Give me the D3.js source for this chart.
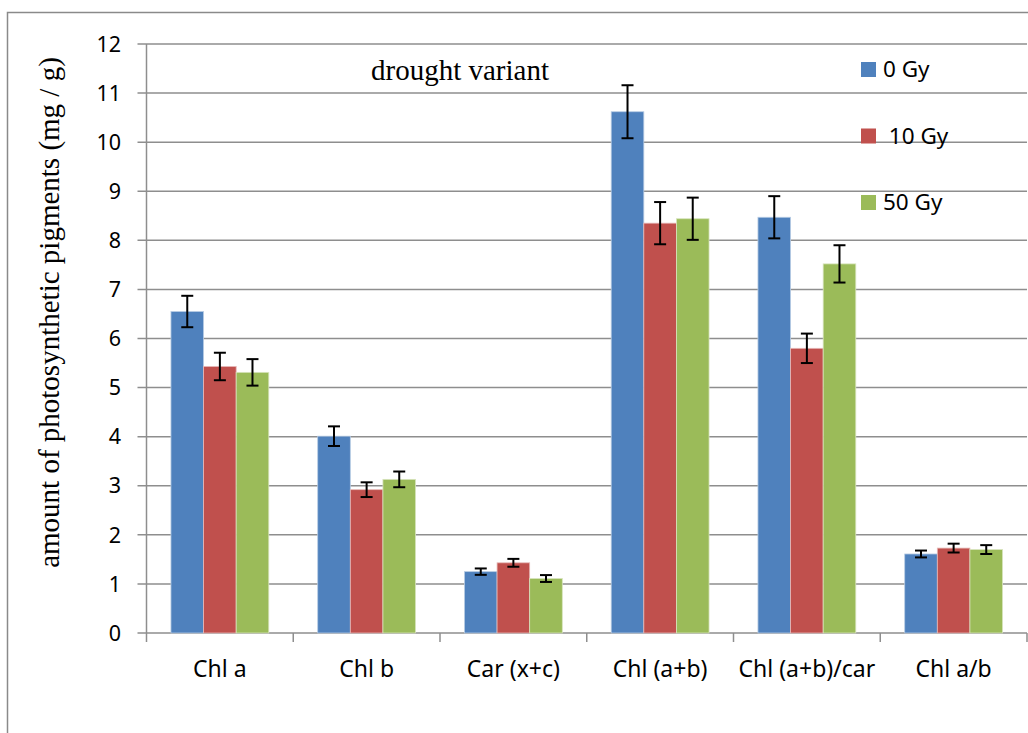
<!DOCTYPE html>
<html>
<head>
<meta charset="utf-8">
<script src="https://cdn.jsdelivr.net/npm/d3@7"></script>
<style>
  html, body { margin: 0; padding: 0; background: #fff; }
  svg { display: block; }
</style>
</head>
<body>
<svg id="chart" width="1028" height="733"></svg>
<script>
const categories = ["Chl a", "Chl b", "Car (x+c)", "Chl (a+b)", "Chl (a+b)/car", "Chl a/b"];
const seriesNames = ["0 Gy", "10 Gy", "50 Gy"];
const legendLabels = ["0 Gy", " 10 Gy", "50 Gy"];
const values0 = [6.55, 4.01, 1.25, 10.62, 8.47, 1.61];
const values10 = [5.43, 2.92, 1.43, 8.35, 5.80, 1.73];
const values50 = [5.31, 3.13, 1.11, 8.44, 7.52, 1.70];
const errors0 = [0.32, 0.20, 0.065, 0.54, 0.43, 0.07];
const errors10 = [0.28, 0.15, 0.08, 0.43, 0.30, 0.09];
const errors50 = [0.27, 0.16, 0.07, 0.43, 0.38, 0.09];
const yTicks = [0,1,2,3,4,5,6,7,8,9,10,11,12];
const colors = ["#4f81bd", "#c0504d", "#9bbb59"];
const edgeColors = ["#b8cce4", "#e6b9b8", "#d7e4bd"];

const allValues = [values0, values10, values50];
const allErrors = [errors0, errors10, errors50];

(function () {
const svg = d3.select("#chart");

// outer chart border
svg.append("rect").attr("x", 7.5).attr("y", 12.5).attr("width", 1200).attr("height", 900)
  .attr("fill", "none").attr("stroke", "#8a8a8a").attr("stroke-width", 1.5);

const pLeft = 146.5, pRight = 1027, pTop = 44, pBottom = 633;
const y = d3.scaleLinear().domain([0, 12]).range([pBottom, pTop]);
const x = d3.scaleBand().domain(categories).range([pLeft, pRight]).paddingInner(0).paddingOuter(0);
const xs = d3.scaleBand().domain(seriesNames).range([0, x.bandwidth()]).paddingInner(0).paddingOuter(0.75);

const gridColor = "#8e8e8e";
const sansFont = "'Noto Sans', 'Open Sans', sans-serif";
const serifFont = "'Liberation Serif', 'Times New Roman', serif";

// gridlines + left ticks
svg.append("g").selectAll("line").data(yTicks).join("line")
  .attr("x1", pLeft - 9).attr("x2", pRight)
  .attr("y1", d => y(d)).attr("y2", d => y(d))
  .attr("stroke", gridColor).attr("stroke-width", 1.5);

// y axis line
svg.append("line").attr("x1", pLeft).attr("x2", pLeft).attr("y1", pTop).attr("y2", pBottom)
  .attr("stroke", gridColor).attr("stroke-width", 1.5);

// x ticks at category boundaries
const bounds = categories.map(c => x(c)).concat([x(categories[categories.length-1]) + x.bandwidth()]);
svg.append("g").selectAll("line").data(bounds).join("line")
  .attr("x1", d => d).attr("x2", d => d)
  .attr("y1", pBottom).attr("y2", pBottom + 9)
  .attr("stroke", gridColor).attr("stroke-width", 1.5);

// y tick labels
svg.append("g").selectAll("text").data(yTicks).join("text")
  .attr("x", 121).attr("y", d => y(d))
  .attr("dy", "0.36em")
  .attr("text-anchor", "end")
  .attr("font-family", sansFont)
  .attr("font-size", 21.5)
  .attr("fill", "#000")
  .text(d => d);

// bars
const barData = [];
categories.forEach((c, i) => {
  seriesNames.forEach((s, j) => {
    barData.push({ c, s, j, v: allValues[j][i], e: allErrors[j][i] });
  });
});

svg.append("g").selectAll("rect").data(barData).join("rect")
  .attr("x", d => x(d.c) + xs(d.s))
  .attr("y", d => y(d.v))
  .attr("width", xs.bandwidth())
  .attr("height", d => y(0) - y(d.v))
  .attr("fill", d => colors[d.j])
  .attr("stroke", d => edgeColors[d.j])
  .attr("stroke-width", 0.8);

// error bars
const eg = svg.append("g").attr("stroke", "#000").attr("stroke-width", 2);
barData.forEach(d => {
  const cx = x(d.c) + xs(d.s) + xs.bandwidth() / 2;
  const y1 = y(d.v + d.e), y2 = y(d.v - d.e);
  eg.append("line").attr("x1", cx).attr("x2", cx).attr("y1", y1).attr("y2", y2);
  eg.append("line").attr("x1", cx - 6).attr("x2", cx + 6).attr("y1", y1).attr("y2", y1);
  eg.append("line").attr("x1", cx - 6).attr("x2", cx + 6).attr("y1", y2).attr("y2", y2);
});

// category labels
svg.append("g").selectAll("text").data(categories).join("text")
  .attr("x", d => x(d) + x.bandwidth() / 2)
  .attr("y", 677)
  .attr("text-anchor", "middle")
  .attr("font-family", sansFont)
  .attr("font-size", 23)
  .attr("fill", "#000")
  .text(d => d);

// title inside plot
svg.append("text").attr("x", 460).attr("y", 80)
  .attr("text-anchor", "middle")
  .attr("font-family", serifFont)
  .attr("font-size", 29)
  .attr("fill", "#000")
  .text("drought variant");

// y axis title
svg.append("text")
  .attr("transform", "translate(59,312.5) rotate(-90)")
  .attr("text-anchor", "middle")
  .attr("font-family", serifFont)
  .attr("font-size", 29)
  .attr("fill", "#000")
  .text("amount of photosynthetic pigments (mg / g)");

// legend
const legend = svg.append("g");
seriesNames.forEach((s, j) => {
  const ly = 62 + j * 66.5;
  legend.append("rect").attr("x", 861).attr("y", ly).attr("width", 15).attr("height", 15)
    .attr("fill", colors[j]);
  legend.append("text").attr("x", 883).attr("y", ly + 15)
    .attr("font-family", sansFont)
    .attr("font-size", 22.5)
    .attr("fill", "#000")
    .attr("xml:space", "preserve")
    .style("white-space", "pre")
    .text(legendLabels[j]);
});
})();
</script>
</body>
</html>
